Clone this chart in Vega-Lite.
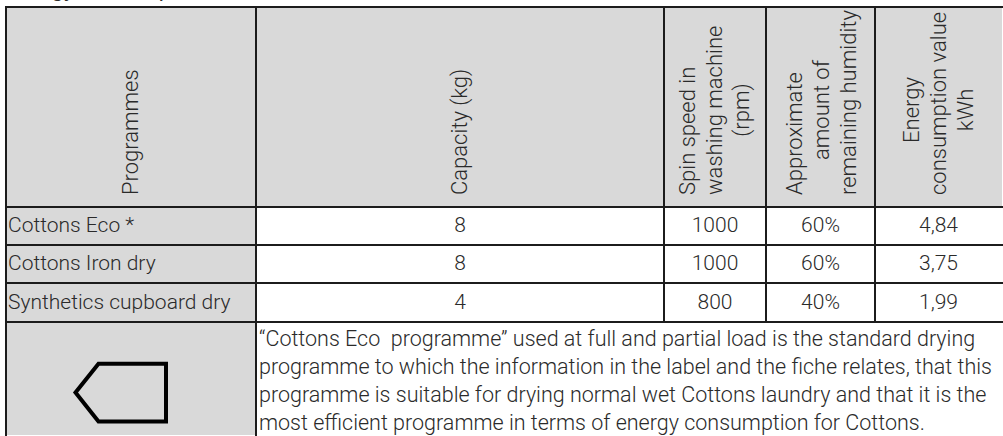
{
  "$schema": "https://vega.github.io/schema/vega-lite/v6.json",
  "width": 1003,
  "height": 436,
  "autosize": {"type": "fit", "contains": "padding"},
  "padding": 0,
  "background": "white",
  "config": {
    "view": {"stroke": null},
    "text": {"font": "Roboto", "fontWeight": 300, "fontSize": 21, "fill": "#2a2a2a"}
  },
  "datasets": {
    "shade": [
      {"x0": 0, "x1": 5, "y0": 0, "y1": 1},
      {"x0": 0, "x1": 1, "y0": 1, "y1": 5}
    ],
    "grid": [
      {"x0": 0, "x1": 5, "y0": 0, "y1": 0},
      {"x0": 0, "x1": 5, "y0": 1, "y1": 1},
      {"x0": 0, "x1": 5, "y0": 2, "y1": 2},
      {"x0": 0, "x1": 5, "y0": 3, "y1": 3},
      {"x0": 0, "x1": 5, "y0": 4, "y1": 4},
      {"x0": 0, "x1": 0, "y0": 0, "y1": 5},
      {"x0": 1, "x1": 1, "y0": 0, "y1": 5},
      {"x0": 2, "x1": 2, "y0": 0, "y1": 4},
      {"x0": 3, "x1": 3, "y0": 0, "y1": 4},
      {"x0": 4, "x1": 4, "y0": 0, "y1": 4}
    ],
    "header": [
      {"col": 0, "grp": "b", "lines": ["Programmes"]},
      {"col": 1, "grp": "b", "lines": ["Capacity (kg)"]},
      {"col": 2, "grp": "b", "lines": ["Spin speed in", "washing machine", "\u200b"]},
      {"col": 3, "grp": "b", "lines": ["Approximate", "\u200b", "remaining humidity"]},
      {"col": 4, "grp": "b", "lines": ["\u200b", "consumption value", "\u200b"]},
      {"col": 2, "grp": "c", "lines": ["\u200b", "\u200b", "(rpm)"]},
      {"col": 3, "grp": "c", "lines": ["\u200b", "amount of", "\u200b"]},
      {"col": 4, "grp": "c", "lines": ["Energy", "\u200b", "kWh"]}
    ],
    "cells": [
      {"row": 1, "col": 0, "v": "Cottons Eco *"},
      {"row": 1, "col": 1, "v": "8"},
      {"row": 1, "col": 2, "v": "1000"},
      {"row": 1, "col": 3, "v": "60%"},
      {"row": 1, "col": 4, "v": "4,84"},
      {"row": 2, "col": 0, "v": "Cottons Iron dry"},
      {"row": 2, "col": 1, "v": "8"},
      {"row": 2, "col": 2, "v": "1000"},
      {"row": 2, "col": 3, "v": "60%"},
      {"row": 2, "col": 4, "v": "3,75"},
      {"row": 3, "col": 0, "v": "Synthetics cupboard dry"},
      {"row": 3, "col": 1, "v": "4"},
      {"row": 3, "col": 2, "v": "800"},
      {"row": 3, "col": 3, "v": "40%"},
      {"row": 3, "col": 4, "v": "1,99"}
    ],
    "note": [
      {"row": 4, "lines": [
        "“Cottons Eco\u00a0 programme” used at full and partial load is the standard drying",
        "programme to which the information in the label and the fiche relates, that this",
        "programme is suitable for drying normal wet Cottons laundry and that it is the",
        "most efficient programme in terms of energy consumption for Cottons."
      ]}
    ],
    "icon": [{"row": 4, "col": 0, "symbol": "standard programme"}],
    "caption": [{"t": "Energy consumption"}]
  },
  "layer": [
    {
      "data": {"name": "shade"},
      "mark": {"type": "rect", "fill": "#d9d9d9"},
      "encoding": {
        "x": {"field": "x0", "type": "quantitative", "axis": null, "scale": {"domain": [0, 1, 2, 3, 4, 5], "range": [6, 256, 664, 766, 875, 1002], "nice": false, "zero": false}},
        "x2": {"field": "x1"},
        "y": {"field": "y0", "type": "quantitative", "axis": null, "scale": {"domain": [0, 1, 2, 3, 4, 5], "range": [7, 207, 245, 283, 322, 435], "nice": false, "zero": false}},
        "y2": {"field": "y1"}
      }
    },
    {
      "data": {"name": "grid"},
      "mark": {"type": "rule", "stroke": "#1c1c1c", "strokeWidth": 2, "strokeCap": "square"},
      "encoding": {
        "x": {"field": "x0", "type": "quantitative", "axis": null, "scale": {"domain": [0, 1, 2, 3, 4, 5], "range": [6, 256, 664, 766, 875, 1002], "nice": false, "zero": false}},
        "x2": {"field": "x1"},
        "y": {"field": "y0", "type": "quantitative", "axis": null, "scale": {"domain": [0, 1, 2, 3, 4, 5], "range": [7, 207, 245, 283, 322, 435], "nice": false, "zero": false}},
        "y2": {"field": "y1"}
      }
    },
    {
      "data": {"name": "header"},
      "transform": [{"filter": "datum.grp == 'b'"}],
      "mark": {"type": "text", "angle": 270, "align": "left", "baseline": "middle", "lineHeight": 27, "fontSize": 22},
      "encoding": {
        "x": {"field": "col", "type": "quantitative", "axis": null, "scale": {"domain": [0, 1, 2, 3, 4], "range": [131, 460, 688, 795, 912], "nice": false, "zero": false}},
        "y": {"datum": 0.94, "type": "quantitative", "axis": null, "scale": {"domain": [0, 1, 2, 3, 4, 5], "range": [7, 207, 245, 283, 322, 435], "nice": false, "zero": false}},
        "text": {"field": "lines", "type": "nominal"}
      }
    },
    {
      "data": {"name": "header"},
      "transform": [{"filter": "datum.grp == 'c'"}],
      "mark": {"type": "text", "angle": 270, "align": "center", "baseline": "middle", "lineHeight": 27, "fontSize": 22},
      "encoding": {
        "x": {"field": "col", "type": "quantitative", "axis": null, "scale": {"domain": [0, 1, 2, 3, 4], "range": [131, 460, 688, 795, 912], "nice": false, "zero": false}},
        "y": {"datum": 0.515, "type": "quantitative", "axis": null, "scale": {"domain": [0, 1, 2, 3, 4, 5], "range": [7, 207, 245, 283, 322, 435], "nice": false, "zero": false}},
        "text": {"field": "lines", "type": "nominal"}
      }
    },
    {
      "data": {"name": "cells"},
      "transform": [{"filter": "datum.col > 0"}],
      "mark": {"type": "text", "align": "center", "baseline": "middle"},
      "encoding": {
        "x": {"field": "col", "type": "quantitative", "axis": null, "scale": {"domain": [0, 1, 2, 3, 4], "range": [131, 460, 715, 820.5, 938.5], "nice": false, "zero": false}},
        "y": {"field": "row", "type": "quantitative", "axis": null, "scale": {"domain": [0, 1, 2, 3, 4], "range": [107, 226, 264, 302.5, 379], "nice": false, "zero": false}},
        "text": {"field": "v", "type": "nominal"}
      }
    },
    {
      "data": {"name": "cells"},
      "transform": [{"filter": "datum.col == 0"}],
      "mark": {"type": "text", "align": "left", "baseline": "middle", "dx": 2},
      "encoding": {
        "x": {"datum": 0, "type": "quantitative", "axis": null, "scale": {"domain": [0, 1, 2, 3, 4, 5], "range": [6, 256, 664, 766, 875, 1002], "nice": false, "zero": false}},
        "y": {"field": "row", "type": "quantitative", "axis": null, "scale": {"domain": [0, 1, 2, 3, 4], "range": [107, 226, 264, 302.5, 379], "nice": false, "zero": false}},
        "text": {"field": "v", "type": "nominal"}
      }
    },
    {
      "data": {"name": "note"},
      "mark": {"type": "text", "align": "left", "baseline": "middle", "lineHeight": 28, "dx": 3, "dy": -39, "fontSize": 21.5},
      "encoding": {
        "x": {"datum": 1, "type": "quantitative", "axis": null, "scale": {"domain": [0, 1, 2, 3, 4, 5], "range": [6, 256, 664, 766, 875, 1002], "nice": false, "zero": false}},
        "y": {"field": "row", "type": "quantitative", "axis": null, "scale": {"domain": [0, 1, 2, 3, 4], "range": [107, 226, 264, 302.5, 379], "nice": false, "zero": false}},
        "text": {"field": "lines", "type": "nominal"}
      }
    },
    {
      "data": {"name": "icon"},
      "mark": {"type": "point", "filled": false, "fill": null, "stroke": "#000000", "strokeWidth": 4, "strokeJoin": "miter", "opacity": 1, "size": 10000,
        "shape": "M -1.11 0.27 L -0.65 -0.306 L 0.70 -0.306 L 0.70 0.85 L -0.65 0.85 Z"},
      "encoding": {
        "x": {"field": "col", "type": "quantitative", "axis": null, "scale": {"domain": [0, 1, 2, 3, 4], "range": [131, 460, 715, 820.5, 938.5], "nice": false, "zero": false}},
        "y": {"field": "row", "type": "quantitative", "axis": null, "scale": {"domain": [0, 1, 2, 3, 4], "range": [107, 226, 264, 302.5, 379], "nice": false, "zero": false}}
      }
    },
    {
      "data": {"name": "caption"},
      "mark": {"type": "text", "align": "left", "baseline": "alphabetic", "dx": 2, "dy": -11, "clip": true, "fontWeight": 400, "fontSize": 22},
      "encoding": {
        "x": {"datum": 0, "type": "quantitative", "axis": null, "scale": {"domain": [0, 1, 2, 3, 4, 5], "range": [6, 256, 664, 766, 875, 1002], "nice": false, "zero": false}},
        "y": {"datum": 0, "type": "quantitative", "axis": null, "scale": {"domain": [0, 1, 2, 3, 4, 5], "range": [7, 207, 245, 283, 322, 435], "nice": false, "zero": false}},
        "text": {"field": "t", "type": "nominal"}
      }
    }
  ],
  "resolve": {"scale": {"x": "independent", "y": "independent"}}
}
